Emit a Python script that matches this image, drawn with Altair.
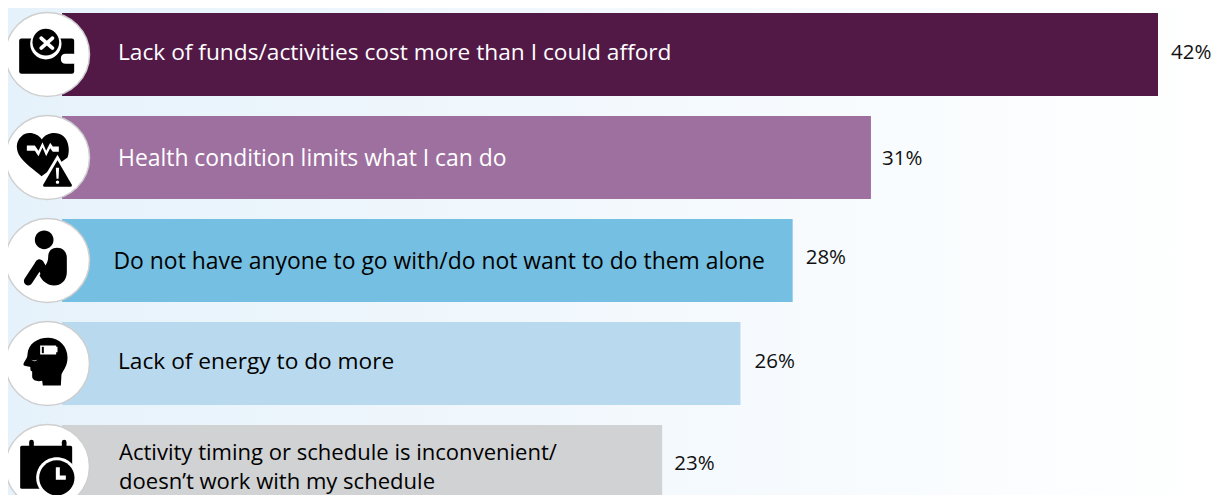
import math

import altair as alt
import pandas as pd

categories = [
    "Lack of funds/activities cost more than I could afford",
    "Health condition limits what I can do",
    "Do not have anyone to go with/do not want to do them alone",
    "Lack of energy to do more",
    "Activity timing or schedule is inconvenient/ doesn't work with my schedule",
]
label_lines = [
    ["Lack of funds/activities cost more than I could afford"],
    ["Health condition limits what I can do"],
    ["Do not have anyone to go with/do not want to do them alone"],
    ["Lack of energy to do more"],
    ["Activity timing or schedule is inconvenient/", "doesn\u2019t work with my schedule"],
]
values = [42, 31, 28, 26, 23]
value_labels = ["42%", "31%", "28%", "26%", "23%"]
bar_colors = ["#521947", "#9E709F", "#75C0E2", "#B9DAEE", "#D1D2D3"]
label_colors = ["#FFFFFF", "#FFFFFF", "#000000", "#000000", "#000000"]


def circ(cx, cy, r):
    return f"M{cx-r} {cy}a{r} {r} 0 1 0 {2*r} 0a{r} {r} 0 1 0 {-2*r} 0Z"


def rrect(x0, y0, x1, y1, r):
    return (f"M{x0+r} {y0}L{x1-r} {y0}Q{x1} {y0} {x1} {y0+r}L{x1} {y1-r}Q{x1} {y1} {x1-r} {y1}"
            f"L{x0+r} {y1}Q{x0} {y1} {x0} {y1-r}L{x0} {y0+r}Q{x0} {y0} {x0+r} {y0}Z")


def capsule(x0, y0, x1, y1, r):
    a = math.atan2(y1 - y0, x1 - x0) + math.pi / 2
    ox, oy = r * math.cos(a), r * math.sin(a)
    return (f"M{x0+ox:.2f} {y0+oy:.2f}A{r} {r} 0 0 1 {x0-ox:.2f} {y0-oy:.2f}"
            f"L{x1-ox:.2f} {y1-oy:.2f}A{r} {r} 0 0 1 {x1+ox:.2f} {y1+oy:.2f}Z")


pulse_top = [(-62, -36), (-38, -36), (-27, -20), (-15, -46), (-4, -20), (8, -44), (16, -33), (34, -33)]
pulse_path = "M" + "L".join(f"{x} {y}" for x, y in pulse_top) + "L" + "L".join(
    f"{x} {y + 16}" for x, y in reversed(pulse_top)) + "Z"

icon_layers = {
    categories[0]: [
        ("#000000", rrect(-85, -48, 80, 58, 7)),
        ("#FFFFFF", circ(-5, -32, 47)),
        ("#FFFFFF", rrect(40, -2, 92, 28, 15)),
        ("#000000", circ(-5, -37, 40)),
        ("#FFFFFF", capsule(-19, -49, 15, -19, 5.5)),
        ("#FFFFFF", capsule(15, -49, -19, -19, 5.5)),
    ],
    categories[1]: [
        ("#000000", "M-17 -54C-30 -74 -62 -80 -78 -64C-98 -46 -94 -20 -82 -2C-68 18 -40 38 -18 56L60 0C68 -20 64 -50 48 -64C28 -80 -4 -76 -17 -54Z"),
        ("#FFFFFF", pulse_path),
        ("#FFFFFF", "M30 -8L88 92L-30 92Z"),
        ("#000000", "M30 8L73 82Q75 88 69 88L-9 88Q-15 88 -13 82Z"),
        ("#FFFFFF", "M25 31L35 31L33 64L27 64Z"),
        ("#FFFFFF", circ(30, 74, 5)),
    ],
    categories[2]: [
        ("#000000", circ(-10, -62, 28)),
        ("#000000", "M2 -10C2 -28 12 -38 29 -38C46 -38 58 -26 58 -8L58 35C58 60 40 75 20 75C0 75 -15 62 -24 45L-10 20C-2 10 2 0 2 -10Z"),
        ("#000000", capsule(-58, 62, -24, 10, 13)),
        ("#000000", capsule(-24, 10, -2, 45, 13)),
    ],
    categories[3]: [
        ("#000000", "M-60 -28C-58 -60 -28 -78 4 -77C36 -76 60 -50 60 -18C60 4 52 14 42 32L40 66L-14 66L-16 52C-28 54 -44 54 -46 40L-46 24C-54 20 -50 16 -52 10C-58 8 -74 8 -72 2C-72 -6 -60 -14 -60 -28Z"),
        ("#FFFFFF", "M-22 -54L26 -54L26 -50L30 -50L30 -34L26 -34L26 -27L-22 -27Z"),
        ("#000000", "M-17 -50L-11 -50L-11 -31L-17 -31Z"),
        ("#FFFFFF", "M-50 -12Q-40 -6 -30 -12Q-38 -2 -50 -12Z"),
    ],
    categories[4]: [
        ("#000000", rrect(-82, -62, 74, 67, 5)),
        ("#000000", rrect(-55, -80, -41, -50, 7)),
        ("#000000", rrect(43, -80, 57, -50, 7)),
        ("#FFFFFF", circ(28, 34, 62)),
        ("#000000", circ(28, 34, 53)),
        ("#FFFFFF", "M25 2L37 2L37 27L55 27L55 40L25 40Z"),
    ],
}

df = pd.DataFrame({
    "category": categories,
    "value": values,
    "value_label": value_labels,
    "label": label_lines,
    "bar_color": bar_colors,
    "label_color": label_colors,
})

glyph_rows = []
layer_count = max(len(v) for v in icon_layers.values())
for cat, parts in icon_layers.items():
    for i, (col, path) in enumerate(parts):
        glyph_rows.append({"category": cat, "ord": i, "col": col, "path": path})
glyphs = pd.DataFrame(glyph_rows)

x_scale = alt.Scale(domain=[0, 42], range=[54, 1150], nice=False, zero=True)
y_scale = alt.Scale(domain=categories, range=[5, 500], paddingInner=20 / 103, paddingOuter=0)
Y = alt.Y("category:N", scale=y_scale, axis=None, title=None)

background = alt.Chart(alt.Data(values=[{"a": 1}])).mark_rect(
    fill=alt.LinearGradient(
        gradient="linear", x1=0, x2=1, y1=0, y2=0,
        stops=[alt.GradientStop(offset=0, color="#E6F2FB"), alt.GradientStop(offset=1, color="#FFFFFF")],
    )
).encode(x=alt.value(0), x2=alt.value(1205), y=alt.value(0), y2=alt.value(487))

bars = alt.Chart(df).mark_bar(cornerRadius=0).encode(
    x=alt.X("value:Q", scale=x_scale, axis=None, title=None),
    y=Y,
    color=alt.Color("bar_color:N", scale=None, legend=None),
)

discs = alt.Chart(df).mark_point(
    filled=True, fill="#FFFFFF", stroke="#CFCFCF", strokeWidth=1.5, size=84 * 84, opacity=1, strokeOpacity=1, fillOpacity=1
).encode(x=alt.value(39.5), y=Y)

layers = [background, bars, discs]

for ord_i in range(layer_count):
    sub = glyphs[glyphs["ord"] == ord_i]
    layers.append(
        alt.Chart(sub).mark_point(filled=True, opacity=1, strokeWidth=0, fillOpacity=1).encode(
            x=alt.value(39.5),
            y=Y,
            shape=alt.Shape("path:N", scale=None, legend=None),
            color=alt.Color("col:N", scale=None, legend=None),
            size=alt.value(4 / 9),
        )
    )

label_nudge = [(110, -2), (110, 1), (105.5, 1), (110, -2), (111, -14)]
label_sizes = [22.7, 22.9, 22.9, 22.7, 22.05]
value_nudge = [(13, -2), (11, 1.5), (13, -2.5), (14, -1.5), (12, -3)]

for i, cat in enumerate(categories):
    row = df[df["category"] == cat]
    layers.append(
        alt.Chart(row).mark_text(
            dy=label_nudge[i][1], font="Open Sans", fontSize=label_sizes[i],
            align="left", baseline="middle", lineHeight=29,
        ).encode(
            x=alt.value(label_nudge[i][0]),
            y=Y,
            text=alt.Text("label"),
            color=alt.Color("label_color:N", scale=None, legend=None),
        )
    )
    layers.append(
        alt.Chart(row).mark_text(
            font="Open Sans", fontSize=20.5, align="left", baseline="middle", color="#111111",
            dx=value_nudge[i][0], dy=value_nudge[i][1],
        ).encode(
            x=alt.X("value:Q", scale=x_scale, axis=None, title=None),
            y=Y,
            text=alt.Text("value_label:N"),
        )
    )

chart = alt.layer(*layers).properties(
    width=1205, height=487, padding=0, autosize=alt.AutoSizeParams(type="none")
).configure_view(stroke=None)

chart.save("out.html", embed_options={"renderer": "svg", "actions": False})
